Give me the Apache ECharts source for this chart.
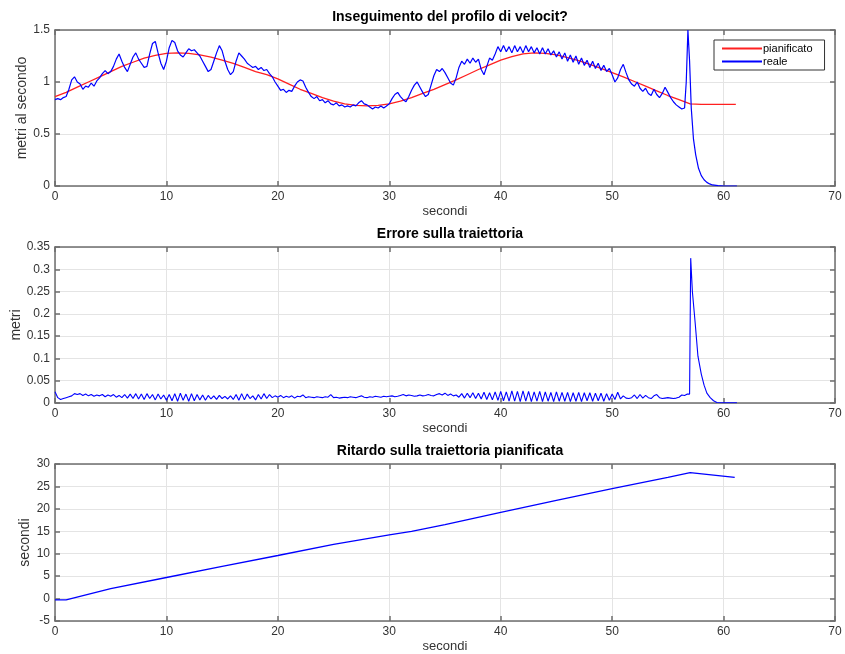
<!DOCTYPE html>
<html>
<head>
<meta charset="utf-8">
<script src="https://cdn.jsdelivr.net/npm/echarts@6/dist/echarts.min.js"></script>
<style>
html,body{margin:0;padding:0;background:#fff;}
#chart{width:845px;height:654px;}
</style>
</head>
<body>
<div id="chart"></div>
<script>
// ---------- DATA ----------
const titles = ["Inseguimento del profilo di velocit?", "Errore sulla traiettoria", "Ritardo sulla traiettoria pianificata"];
const yNames = ["metri al secondo", "metri", "secondi"];
const xName = "secondi";
const seriesNames = ["pianificato", "reale"];

// sampling step (s) of the regularly sampled recordings
const sampleStep = 0.25;

// planned speed [t, m/s]
const plannedVel = [
  [0,0.86],[1,0.90],[2,0.95],[3,1.00],[4,1.05],[5,1.10],[6,1.15],[7,1.19],[8,1.23],[9,1.255],
  [10,1.275],[11,1.28],[12,1.275],[13,1.26],[14,1.24],[15,1.21],[16,1.18],[17,1.14],[18,1.10],[19,1.07],
  [20,1.03],[21,0.98],[22,0.93],[23,0.89],[24,0.85],[25,0.815],[26,0.79],[27,0.775],[28,0.77],[29,0.775],
  [30,0.79],[31,0.815],[32,0.85],[33,0.89],[34,0.93],[35,0.975],[36,1.02],[37,1.07],[38,1.12],[39,1.165],
  [40,1.21],[41,1.245],[42,1.27],[43,1.28],[44,1.275],[45,1.26],[46,1.235],[47,1.205],[48,1.17],[49,1.13],
  [50,1.09],[51,1.05],[52,1.005],[53,0.96],[54,0.915],[55,0.87],[56,0.83],[57,0.79],[58,0.785],[61.1,0.785]
];

// actual speed, every 0.25 s from t=0 to t=56.5
const realVelValues = [
  0.83,0.84,0.83,0.85,0.86,0.93,1.02,1.05,
  1.00,0.98,0.93,0.96,0.95,0.99,0.96,1.01,
  1.04,1.08,1.11,1.08,1.10,1.15,1.22,1.27,
  1.20,1.14,1.10,1.17,1.24,1.28,1.22,1.18,
  1.14,1.15,1.27,1.37,1.39,1.28,1.18,1.12,
  1.20,1.33,1.40,1.38,1.30,1.26,1.24,1.28,
  1.32,1.30,1.31,1.28,1.25,1.20,1.15,1.10,
  1.12,1.20,1.28,1.35,1.30,1.20,1.12,1.07,
  1.10,1.20,1.28,1.25,1.22,1.18,1.16,1.14,
  1.15,1.12,1.14,1.11,1.12,1.08,1.05,1.00,
  0.96,0.92,0.93,0.90,0.92,0.91,0.96,1.00,
  1.02,1.01,0.95,0.90,0.86,0.84,0.86,0.82,
  0.83,0.80,0.82,0.79,0.78,0.80,0.77,0.78,
  0.76,0.77,0.76,0.78,0.77,0.80,0.82,0.79,
  0.78,0.76,0.74,0.76,0.75,0.77,0.75,0.77,
  0.79,0.84,0.88,0.90,0.86,0.83,0.81,0.86,
  0.92,0.97,1.00,0.95,0.90,0.86,0.88,0.97,
  1.06,1.12,1.10,1.13,1.09,1.04,0.99,0.97,
  1.04,1.14,1.20,1.17,1.22,1.18,1.23,1.19,
  1.22,1.12,1.07,1.15,1.23,1.21,1.27,1.34,
  1.29,1.35,1.29,1.34,1.28,1.35,1.29,1.34,
  1.28,1.35,1.29,1.34,1.28,1.33,1.27,1.33,
  1.27,1.32,1.26,1.30,1.24,1.29,1.22,1.28,
  1.20,1.26,1.19,1.25,1.17,1.23,1.16,1.21,
  1.14,1.20,1.13,1.18,1.11,1.16,1.10,1.13,
  1.07,1.00,1.04,1.12,1.17,1.09,1.02,0.98,
  0.96,1.00,0.94,0.91,0.94,0.89,0.87,0.93,
  0.88,0.85,0.89,0.95,0.90,0.85,0.81,0.78,
  0.76,0.74,0.75
];
// actual speed, final transient [t, m/s]
const realVelTail = [
  [56.65,1.0],[56.8,1.5],[56.95,1.2],[57.1,0.75],[57.3,0.45],[57.5,0.3],[57.75,0.17],[58,0.1],
  [58.25,0.06],[58.5,0.035],[58.75,0.02],[59,0.01],[59.5,0.003],[60,0],[61.2,0]
];

// trajectory error, every 0.25 s from t=0 to t=56.75
const errorValues = [
  0.025,0.012,0.008,0.010,0.012,0.014,0.016,0.021,
  0.019,0.021,0.017,0.020,0.016,0.019,0.015,0.018,
  0.016,0.019,0.014,0.018,0.015,0.019,0.013,0.017,
  0.012,0.019,0.011,0.020,0.010,0.021,0.009,0.020,
  0.008,0.021,0.010,0.019,0.007,0.020,0.009,0.018,
  0.006,0.019,0.005,0.021,0.004,0.022,0.006,0.020,
  0.004,0.021,0.005,0.019,0.007,0.018,0.006,0.017,
  0.009,0.016,0.008,0.017,0.010,0.015,0.009,0.016,
  0.008,0.019,0.006,0.021,0.007,0.020,0.010,0.016,
  0.007,0.019,0.009,0.021,0.010,0.019,0.012,0.016,
  0.013,0.017,0.012,0.015,0.013,0.016,0.011,0.015,
  0.014,0.018,0.012,0.014,0.013,0.012,0.014,0.013,
  0.012,0.014,0.013,0.019,0.012,0.013,0.011,0.012,
  0.013,0.012,0.014,0.013,0.012,0.014,0.016,0.013,
  0.012,0.014,0.013,0.015,0.014,0.013,0.015,0.014,
  0.015,0.016,0.014,0.015,0.017,0.019,0.016,0.018,
  0.017,0.015,0.016,0.018,0.016,0.017,0.019,0.017,
  0.016,0.019,0.021,0.018,0.022,0.017,0.020,0.016,
  0.018,0.013,0.021,0.011,0.022,0.012,0.023,0.010,
  0.022,0.009,0.024,0.008,0.023,0.007,0.025,0.006,
  0.026,0.005,0.025,0.004,0.027,0.004,0.026,0.003,
  0.027,0.004,0.026,0.003,0.025,0.004,0.026,0.003,
  0.025,0.004,0.024,0.003,0.025,0.004,0.024,0.004,
  0.024,0.003,0.023,0.004,0.024,0.003,0.023,0.005,
  0.023,0.004,0.022,0.005,0.022,0.004,0.021,0.006,
  0.020,0.008,0.024,0.009,0.016,0.011,0.010,0.012,
  0.018,0.010,0.019,0.011,0.017,0.012,0.010,0.016,
  0.019,0.012,0.010,0.011,0.012,0.011,0.010,0.011,
  0.013,0.018,0.017,0.020
];
const errorTail = [
  [56.95,0.02],[57.05,0.325],[57.2,0.25],[57.45,0.18],[57.7,0.105],[58.0,0.065],[58.25,0.04],
  [58.5,0.022],[58.8,0.012],[59.1,0.005],[59.4,0.001],[60,0.0005],[61.2,0.0005]
];

// delay on planned trajectory [t, s]
const delay = [
  [0,-0.3],[1,-0.3],[5,2.2],[10,4.7],[15,7.2],[20,9.6],[25,12.1],[30,14.2],[32,15.0],
  [35,16.5],[40,19.2],[45,21.9],[50,24.5],[55,27.0],[57,28.1],[61,27.0]
];

const xTicks = {min:0, max:70, interval:10};
const yTicks = [
  {min:0, max:1.5, interval:0.5},
  {min:0, max:0.35, interval:0.05},
  {min:-5, max:30, interval:5}
];

// ---------- CHART ----------
const FONT = "'Liberation Sans', Arial, sans-serif";
const AX = '#6e6e6e';
const GRIDC = '#e4e4e4';
const tops = [30, 247, 464];
const heights = [156, 156, 157];
const yNameGap = [26, 32, 23];

function sampled(vals){ return vals.map((v,i)=>[i*sampleStep, v]); }

const grids = tops.map((t,i)=>({left:55, top:t, width:780, height:heights[i], containLabel:false, outerBoundsMode:'none'}));
const xAxes = [], yAxes = [];
for (let i=0;i<3;i++){
  xAxes.push({
    type:'value', gridIndex:i, min:xTicks.min, max:xTicks.max, interval:xTicks.interval,
    name:xName, nameLocation:'middle', nameGap:19, nameMoveOverlap:false,
    nameTextStyle:{fontFamily:FONT, fontSize:13, color:'#333'},
    axisLine:{show:true, onZero:false, lineStyle:{color:AX, width:1.5}},
    axisTick:{show:true, inside:true, length:5, lineStyle:{color:AX, width:1.5}},
    axisLabel:{fontFamily:FONT, fontSize:12, color:'#333', margin:5},
    splitLine:{show:true, lineStyle:{color:GRIDC, width:1}}
  });
  xAxes.push({
    type:'value', gridIndex:i, position:'top', min:xTicks.min, max:xTicks.max, interval:xTicks.interval,
    axisLine:{show:true, onZero:false, lineStyle:{color:AX, width:1.5}},
    axisTick:{show:true, inside:true, length:5, lineStyle:{color:AX, width:1.5}},
    axisLabel:{show:false}, splitLine:{show:false}
  });
  yAxes.push({
    type:'value', gridIndex:i, min:yTicks[i].min, max:yTicks[i].max, interval:yTicks[i].interval,
    name:yNames[i], nameLocation:'middle', nameGap:yNameGap[i], nameRotate:90, nameMoveOverlap:false,
    nameTextStyle:{fontFamily:FONT, fontSize:14, color:'#333'},
    axisLine:{show:true, onZero:false, lineStyle:{color:AX, width:1.5}},
    axisTick:{show:true, inside:true, length:5, lineStyle:{color:AX, width:1.5}},
    axisLabel:{fontFamily:FONT, fontSize:12, color:'#333', margin:5},
    splitLine:{show:true, lineStyle:{color:GRIDC, width:1}}
  });
  yAxes.push({
    type:'value', gridIndex:i, position:'right', min:yTicks[i].min, max:yTicks[i].max, interval:yTicks[i].interval,
    axisLine:{show:true, onZero:false, lineStyle:{color:AX, width:1.5}},
    axisTick:{show:true, inside:true, length:5, lineStyle:{color:AX, width:1.5}},
    axisLabel:{show:false}, splitLine:{show:false}
  });
}

const lineBase = {type:'line', showSymbol:false, symbol:'none', clip:true, animation:false};

const option = {
  animation:false,
  backgroundColor:'#fff',
  title: titles.map((t,i)=>({
    text:t, left:445, textAlign:'center', top:tops[i]-25,
    textStyle:{fontFamily:FONT, fontSize:14, fontWeight:'bold', color:'#000'}
  })),
  legend:{
    data:seriesNames, orient:'vertical', left:714, top:40,
    backgroundColor:'#fff', borderColor:'#333', borderWidth:1, padding:[3,12,3,8],
    itemWidth:40, itemHeight:2, itemGap:2, icon:'rect',
    textStyle:{fontFamily:FONT, fontSize:11, color:'#000', padding:[0,0,0,-4]}
  },
  grid:grids,
  xAxis:xAxes,
  yAxis:yAxes,
  series:[
    Object.assign({}, lineBase, {name:seriesNames[0], xAxisIndex:0, yAxisIndex:0, data:plannedVel,
      lineStyle:{color:'#ff2020', width:1.3}, itemStyle:{color:'#ff2020'}, z:2}),
    Object.assign({}, lineBase, {name:seriesNames[1], xAxisIndex:0, yAxisIndex:0,
      data:sampled(realVelValues).concat(realVelTail),
      lineStyle:{color:'#0000ff', width:1.2}, itemStyle:{color:'#0000ff'}, z:3}),
    Object.assign({}, lineBase, {name:'errore', xAxisIndex:2, yAxisIndex:2,
      data:sampled(errorValues).concat(errorTail),
      lineStyle:{color:'#0000ff', width:1.1}, itemStyle:{color:'#0000ff'}}),
    Object.assign({}, lineBase, {name:'ritardo', xAxisIndex:4, yAxisIndex:4, data:delay,
      lineStyle:{color:'#0000ff', width:1.3}, itemStyle:{color:'#0000ff'}})
  ]
};

const chart = echarts.init(document.getElementById('chart'), null, {renderer:'canvas'});
chart.setOption(option);
</script>
</body>
</html>
